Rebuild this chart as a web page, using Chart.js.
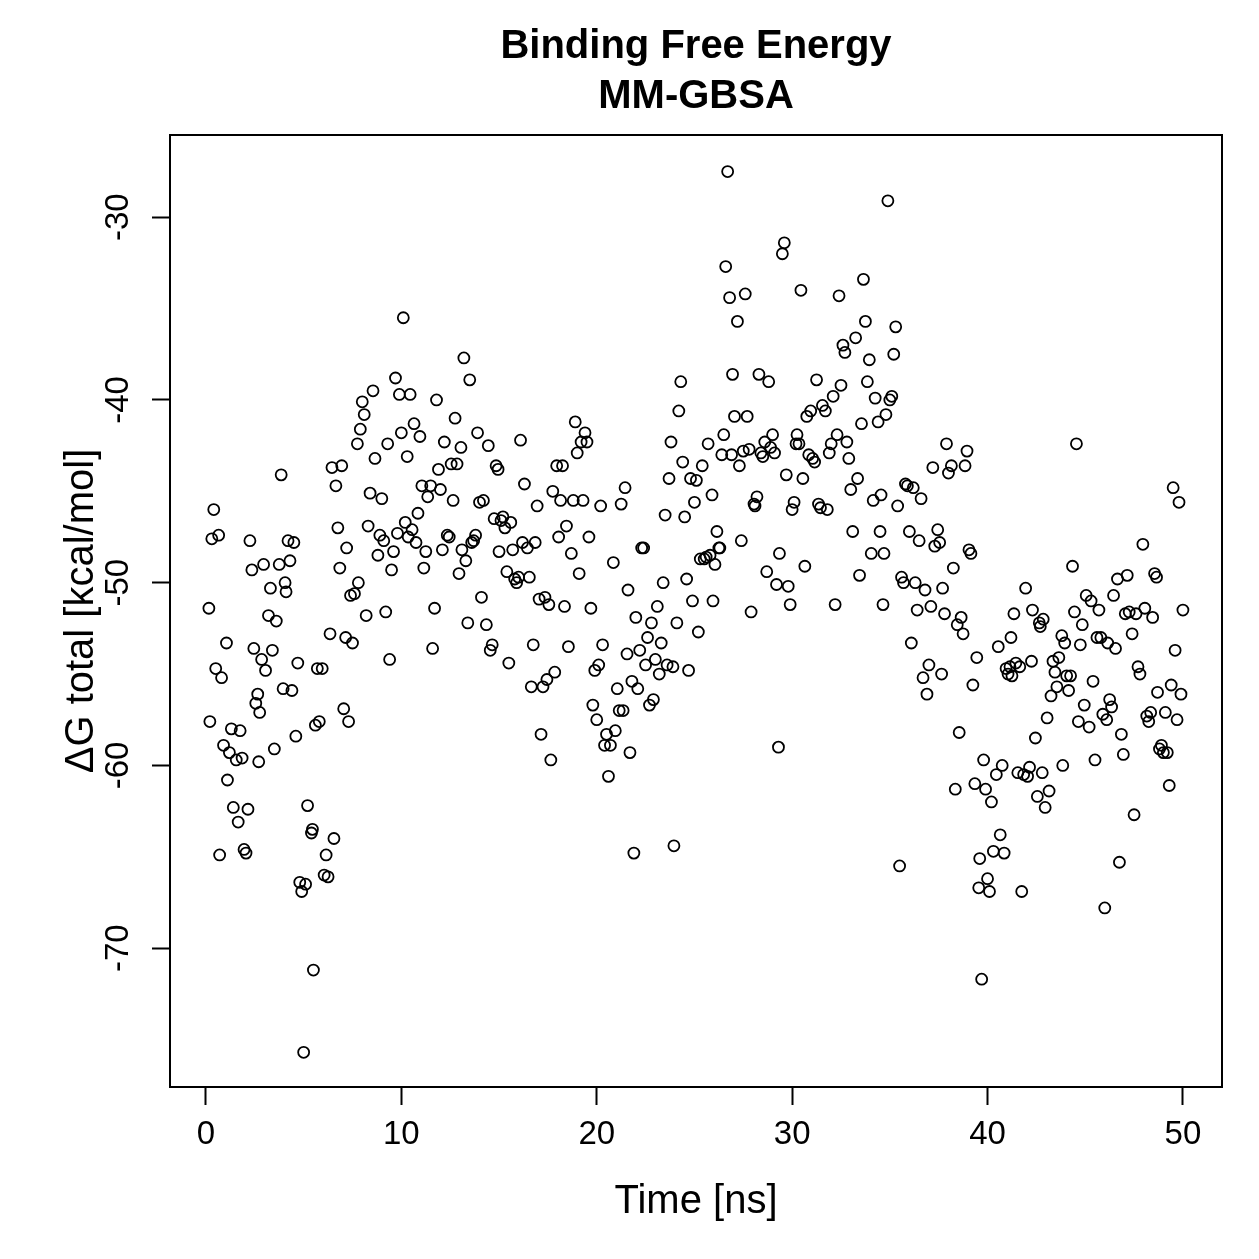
<!DOCTYPE html>
<html>
<head>
<meta charset="utf-8">
<script src="https://cdn.jsdelivr.net/npm/chart.js@4"></script>
<style>
html,body{margin:0;padding:0;background:#fff;}
#wrap{width:1259px;height:1259px;}
</style>
</head>
<body>
<div id="wrap"><canvas id="c" width="1259" height="1259"></canvas></div>
<script>
const chartTitle = ["Binding Free Energy", "MM-GBSA"];
const xAxisTitle = "Time [ns]";
const yAxisTitle = "\u0394G total [kcal/mol]";
const xTicks = [0, 10, 20, 30, 40, 50];
const yTicks = [-70, -60, -50, -40, -30];

const timeNs = [
0.15,0.2,0.3,0.4,0.5,0.65,0.7,0.8,0.9,1.05,
1.1,1.2,1.3,1.4,1.55,1.65,1.75,1.85,1.95,2.05,
2.15,2.25,2.35,2.45,2.55,2.65,2.7,2.75,2.85,2.95,
3.05,3.2,3.3,3.4,3.5,3.6,3.75,3.85,3.95,4.05,
4.1,4.2,4.3,4.4,4.5,4.6,4.7,4.8,4.9,5.0,
5.1,5.2,5.4,5.45,5.5,5.6,5.7,5.8,5.95,6.05,
6.15,6.25,6.35,6.45,6.55,6.65,6.75,6.85,6.95,7.05,
7.15,7.2,7.3,7.4,7.5,7.6,7.75,7.8,7.9,8.0,
8.1,8.2,8.3,8.4,8.55,8.65,8.8,8.9,9.0,9.1,
9.2,9.3,9.4,9.5,9.6,9.7,9.8,9.9,10.0,10.1,
10.2,10.3,10.35,10.45,10.55,10.65,10.75,10.85,10.95,11.05,
11.15,11.25,11.35,11.5,11.6,11.7,11.8,11.9,12.0,12.1,
12.2,12.35,12.45,12.55,12.65,12.75,12.85,12.95,13.05,13.1,
13.2,13.3,13.4,13.5,13.6,13.7,13.8,13.9,14.0,14.1,
14.2,14.35,14.45,14.55,14.65,14.75,14.85,14.95,15.0,15.1,
15.2,15.3,15.4,15.5,15.6,15.7,15.8,15.9,16.0,16.1,
16.2,16.3,16.45,16.55,16.65,16.75,16.85,16.95,17.05,17.15,
17.25,17.35,17.45,17.55,17.65,17.75,17.85,17.95,18.05,18.15,
18.25,18.35,18.45,18.55,18.7,18.8,18.9,19.0,19.1,19.2,
19.3,19.4,19.5,19.6,19.7,19.8,19.9,20.0,20.1,20.2,
20.3,20.4,20.5,20.6,20.7,20.85,20.95,21.05,21.15,21.25,
21.35,21.45,21.55,21.6,21.7,21.8,21.9,22.0,22.1,22.2,
22.3,22.4,22.5,22.6,22.7,22.8,22.9,23.0,23.1,23.2,
23.3,23.4,23.5,23.6,23.7,23.8,23.9,23.95,24.1,24.2,
24.3,24.4,24.5,24.6,24.7,24.8,24.9,25.0,25.1,25.2,
25.3,25.4,25.5,25.6,25.7,25.8,25.9,25.95,26.05,26.15,
26.25,26.3,26.4,26.5,26.6,26.7,26.8,26.9,26.95,27.05,
27.2,27.3,27.4,27.5,27.6,27.7,27.8,27.9,28.05,28.1,
28.2,28.3,28.4,28.5,28.6,28.7,28.8,28.9,29.0,29.1,
29.2,29.3,29.35,29.5,29.6,29.7,29.8,29.9,30.0,30.1,
30.2,30.25,30.35,30.45,30.55,30.65,30.75,30.85,30.95,31.05,
31.15,31.25,31.35,31.45,31.55,31.7,31.8,31.9,32.0,32.1,
32.2,32.3,32.4,32.5,32.6,32.7,32.8,32.9,33.0,33.1,
33.25,33.35,33.45,33.55,33.65,33.75,33.85,33.95,34.05,34.15,
34.25,34.4,34.5,34.55,34.65,34.7,34.8,34.9,35.0,35.1,
35.2,35.3,35.4,35.5,35.6,35.7,35.8,35.9,36.0,36.1,
36.2,36.3,36.4,36.5,36.6,36.7,36.8,36.9,37.0,37.1,
37.2,37.3,37.45,37.55,37.65,37.7,37.8,37.9,38.0,38.15,
38.25,38.35,38.45,38.55,38.65,38.75,38.85,38.95,39.05,39.15,
39.25,39.35,39.45,39.55,39.6,39.7,39.8,39.9,40.0,40.1,
40.2,40.3,40.45,40.55,40.65,40.75,40.85,40.95,41.05,41.15,
41.2,41.25,41.35,41.45,41.55,41.65,41.75,41.85,41.95,42.05,
42.15,42.25,42.3,42.45,42.55,42.65,42.7,42.8,42.85,42.95,
43.05,43.15,43.25,43.35,43.45,43.55,43.65,43.8,43.85,43.95,
44.05,44.15,44.25,44.35,44.45,44.55,44.65,44.75,44.85,44.95,
45.05,45.2,45.3,45.4,45.5,45.6,45.7,45.8,45.9,46.0,
46.1,46.15,46.25,46.35,46.45,46.55,46.65,46.75,46.85,46.95,
47.05,47.15,47.25,47.4,47.5,47.6,47.7,47.8,47.95,48.05,
48.15,48.25,48.35,48.45,48.55,48.65,48.7,48.8,48.9,49.0,
49.1,49.2,49.3,49.4,49.5,49.6,49.7,49.8,49.9,50.0
];

const dG = [
-51.4,-57.6,-47.6,-46.0,-54.7,-47.4,-64.9,-55.2,-58.9,-53.3,
-60.8,-59.3,-58.0,-62.3,-59.7,-63.1,-58.1,-59.6,-64.6,-64.8,
-62.4,-47.7,-49.3,-53.6,-56.6,-56.1,-59.8,-57.1,-54.2,-49.0,
-54.8,-51.8,-50.3,-53.7,-59.1,-52.1,-49.0,-44.1,-55.8,-50.0,
-50.5,-47.7,-48.8,-55.9,-47.8,-58.4,-54.4,-66.4,-66.9,-75.7,
-66.5,-62.2,-63.7,-63.5,-71.2,-57.8,-54.7,-57.6,-54.7,-66.0,
-64.9,-66.1,-52.8,-43.7,-64.0,-44.7,-47.0,-49.2,-43.6,-56.9,
-53.0,-48.1,-57.6,-50.7,-53.3,-50.6,-42.4,-50.0,-41.6,-40.1,
-40.8,-51.8,-46.9,-45.1,-39.5,-43.2,-48.5,-47.4,-45.4,-47.7,
-51.6,-42.4,-54.2,-49.3,-48.3,-38.8,-47.3,-39.7,-41.8,-35.5,
-46.7,-43.1,-47.5,-39.7,-47.1,-41.3,-47.8,-46.2,-42.0,-44.7,
-49.2,-48.3,-45.3,-44.7,-53.6,-51.4,-40.0,-43.8,-44.9,-48.2,
-42.3,-47.4,-47.5,-43.5,-45.5,-41.0,-43.5,-49.5,-42.6,-48.2,
-37.7,-48.8,-52.2,-38.9,-47.8,-47.7,-47.4,-41.8,-45.6,-50.8,
-45.5,-52.3,-42.5,-53.7,-53.4,-46.5,-43.6,-43.8,-48.3,-46.6,
-46.4,-47.0,-49.4,-54.4,-46.7,-48.2,-49.8,-50.0,-49.7,-42.2,
-47.8,-44.6,-48.1,-49.7,-55.7,-53.4,-47.8,-45.8,-50.9,-58.3,
-55.7,-50.8,-55.3,-51.2,-59.7,-45.0,-54.9,-43.6,-47.5,-45.5,
-43.6,-51.3,-46.9,-53.5,-48.4,-45.5,-41.2,-42.9,-49.5,-42.3,
-45.5,-41.8,-42.3,-47.5,-51.4,-56.7,-54.8,-57.5,-54.5,-45.8,
-53.4,-58.9,-58.3,-60.6,-58.9,-48.9,-58.1,-55.8,-57.0,-45.7,
-57.0,-44.8,-53.9,-50.4,-59.3,-55.4,-64.8,-51.9,-55.8,-53.7,
-48.1,-48.1,-54.5,-53.0,-56.7,-52.2,-56.4,-54.2,-51.3,-55.0,
-53.3,-50.0,-46.3,-54.5,-44.3,-42.3,-54.6,-64.4,-52.2,-40.6,
-39.0,-43.4,-46.4,-49.8,-54.8,-44.3,-51.0,-45.6,-44.4,-52.7,
-48.7,-43.6,-48.7,-48.6,-42.4,-48.5,-45.2,-51.0,-49.0,-47.2,
-48.1,-48.1,-43.0,-41.9,-32.7,-27.5,-34.4,-43.0,-38.6,-40.9,
-35.7,-43.6,-47.7,-42.8,-34.2,-40.9,-42.7,-51.6,-45.7,-45.8,
-45.3,-38.6,-42.9,-43.1,-42.3,-49.4,-39.0,-42.6,-41.9,-42.9,
-50.1,-59.0,-48.4,-32.0,-31.4,-44.1,-50.2,-51.2,-46.0,-45.6,
-42.4,-41.9,-42.4,-34.0,-44.3,-49.1,-40.9,-43.0,-40.6,-43.2,
-43.4,-38.9,-45.7,-45.9,-40.3,-40.6,-46.0,-42.9,-42.4,-39.8,
-51.2,-41.9,-34.3,-39.2,-37.0,-37.4,-42.3,-43.2,-44.9,-47.2,
-36.6,-44.3,-49.6,-41.3,-33.4,-35.7,-39.0,-37.8,-48.4,-45.5,
-39.9,-41.2,-47.2,-45.2,-51.2,-48.4,-40.8,-29.1,-40.0,-39.8,
-37.5,-36.0,-45.8,-65.5,-49.7,-50.0,-44.6,-44.7,-47.2,-53.3,
-44.8,-50.0,-51.5,-47.7,-45.4,-55.2,-50.4,-56.1,-54.5,-51.3,
-43.7,-48.0,-47.1,-47.8,-55.0,-50.3,-51.7,-42.4,-44.0,-43.6,
-49.2,-61.3,-52.3,-58.2,-51.9,-52.8,-43.6,-42.8,-48.2,-48.4,
-55.6,-61.0,-54.1,-66.7,-65.1,-71.7,-59.7,-61.3,-66.2,-66.9,
-62.0,-64.7,-60.5,-53.5,-63.8,-60.0,-64.8,-54.7,-55.0,-54.6,
-53.0,-55.1,-51.7,-54.4,-60.4,-54.6,-66.9,-60.5,-50.3,-60.6,
-60.1,-54.3,-51.5,-58.5,-61.7,-52.2,-52.4,-60.4,-52.0,-62.3,
-57.4,-61.4,-56.2,-54.3,-54.9,-55.7,-54.1,-52.9,-60.0,-53.3,
-55.1,-55.9,-55.1,-49.1,-51.6,-42.4,-57.6,-53.4,-52.3,-56.7,
-50.7,-57.9,-51.0,-55.4,-59.7,-53.0,-51.5,-53.0,-57.2,-67.8,
-57.5,-53.3,-56.4,-56.8,-50.7,-53.6,-49.8,-65.3,-58.3,-59.4,
-51.7,-49.6,-51.6,-52.8,-62.7,-51.7,-54.6,-55.0,-47.9,-51.4,
-57.3,-57.6,-57.1,-51.9,-49.5,-49.7,-56.0,-59.1,-58.9,-59.3,
-57.1,-59.3,-61.1,-55.6,-44.8,-53.7,-57.5,-45.6,-56.1,-51.5
];

const points = timeNs.map((t, i) => ({x: t, y: dG[i]}));
const FONT = "'Liberation Sans', Arial, Helvetica, sans-serif";

const decor = {
  id: 'decor',
  afterDraw(chart) {
    const ctx = chart.ctx;
    const a = chart.chartArea;
    const ys = chart.scales.y;
    ctx.save();
    ctx.strokeStyle = '#000';
    ctx.lineWidth = 2;
    ctx.strokeRect(a.left, a.top, a.right - a.left, a.bottom - a.top);
    ctx.fillStyle = '#000';
    // main title
    ctx.font = "bold 40px " + FONT;
    ctx.textAlign = 'center';
    ctx.textBaseline = 'middle';
    const cx = (a.left + a.right) / 2;
    ctx.fillText(chartTitle[0], cx, 47);
    ctx.fillText(chartTitle[1], cx, 97);
    // x axis title
    ctx.font = "40px " + FONT;
    ctx.fillText(xAxisTitle, cx, 1202);
    // y tick labels (rotated)
    ctx.font = "33px " + FONT;
    ctx.textBaseline = 'alphabetic';
    yTicks.forEach(v => {
      const py = ys.getPixelForValue(v);
      ctx.save();
      ctx.translate(128, py);
      ctx.rotate(-Math.PI / 2);
      ctx.fillText(String(v), 0, 0);
      ctx.restore();
    });
    // y axis title
    ctx.font = "40px " + FONT;
    ctx.save();
    ctx.translate(93, (a.top + a.bottom) / 2);
    ctx.rotate(-Math.PI / 2);
    ctx.fillText(yAxisTitle, 0, 0);
    ctx.restore();
    ctx.restore();
  }
};

new Chart(document.getElementById('c'), {
  type: 'scatter',
  data: {
    datasets: [{
      data: points,
      pointStyle: 'circle',
      pointRadius: 5.5,
      pointBorderWidth: 1.8,
      pointBorderColor: '#000',
      pointBackgroundColor: 'rgba(0,0,0,0)',
      showLine: false
    }]
  },
  options: {
    responsive: false,
    animation: false,
    devicePixelRatio: 1,
    layout: {padding: {top: 135, right: 37, left: 0, bottom: 0}},
    plugins: {legend: {display: false}, tooltip: {enabled: false}, title: {display: false}},
    scales: {
      x: {
        type: 'linear', min: -1.84, max: 52,
        afterBuildTicks: s => { s.ticks = xTicks.map(v => ({value: v})); },
        afterFit: s => { s.height = 172; },
        grid: {drawOnChartArea: false, drawTicks: true, tickLength: 18, tickWidth: 2, tickColor: '#000'},
        border: {display: true, color: '#000', width: 2},
        ticks: {color: '#000', font: {family: FONT, size: 33}, padding: 10, maxRotation: 0, autoSkip: false,
                callback: v => String(v)}
      },
      y: {
        type: 'linear', min: -77.6, max: -25.5,
        afterBuildTicks: s => { s.ticks = yTicks.map(v => ({value: v})); },
        afterFit: s => { s.width = 170; },
        grid: {drawOnChartArea: false, drawTicks: true, tickLength: 18, tickWidth: 2, tickColor: '#000'},
        border: {display: true, color: '#000', width: 2},
        ticks: {display: false}
      }
    }
  },
  plugins: [decor]
});
</script>
</body>
</html>
